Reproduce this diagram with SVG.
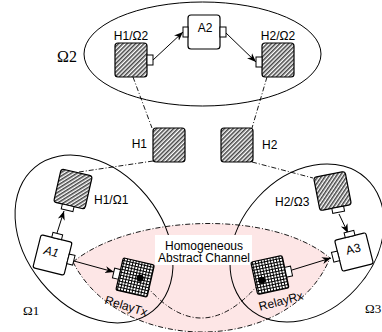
<svg xmlns="http://www.w3.org/2000/svg" width="382" height="332" viewBox="0 0 382 332">
<defs>
<pattern id="hatch" width="3" height="3" patternUnits="userSpaceOnUse" patternTransform="rotate(45)">
<rect width="3" height="3" fill="#ffffff"/>
<line x1="0.8" y1="0" x2="0.8" y2="3" stroke="#222" stroke-width="1.3"/>
</pattern>
<pattern id="grid" width="3" height="3" patternUnits="userSpaceOnUse">
<rect width="3" height="3" fill="#ffffff"/>
<path d="M0,0.5 H3 M0.5,0 V3" stroke="#000" stroke-width="1"/>
</pattern>
<marker id="arr" viewBox="0 0 10 10" refX="10" refY="5" markerWidth="9" markerHeight="9" markerUnits="userSpaceOnUse" orient="auto">
<path d="M0,1 L10,5 L0,9 L3,5 z" fill="#000"/>
</marker>
</defs>
<style>
.sans{font-family:"Liberation Sans",Arial,sans-serif;font-size:12px;fill:#000}
.serif{font-family:"Liberation Serif","Times New Roman",serif;fill:#000}
.region{fill:none;stroke:#000;stroke-width:1}
.hbox{fill:url(#hatch);stroke:#000;stroke-width:1.2}
.gbox{fill:url(#grid);stroke:#000;stroke-width:1.2}
.abox{fill:#fff;stroke:#000;stroke-width:1.2}
.port{fill:#fff;stroke:#000;stroke-width:1}
.dash{fill:none;stroke:#000;stroke-width:0.9;stroke-dasharray:5 2 1 2}
.arrow{fill:none;stroke:#000;stroke-width:1;marker-end:url(#arr)}
</style>
<rect width="382" height="332" fill="#fff"/>

<!-- channel -->
<g id="channel">
<path d="M73,262 C130,215 270,208 330,258 C290,356 120,356 73,262 Z" fill="#fde6e6" stroke="none"/>
<path class="dash" d="M73,262 C130,215 270,208 330,258"/>
<path class="dash" d="M73,262 C120,356 290,356 330,258"/>
</g>

<!-- regions -->
<g id="omega2">
<ellipse class="region" cx="202.5" cy="54" rx="118.5" ry="52"/>
<text class="serif" x="57" y="62" font-size="16">Ω2</text>
</g>
<g id="omega1">
<ellipse class="region" cx="94" cy="239" rx="93" ry="68" transform="rotate(50.7 94 239)"/>
<text class="serif" x="23" y="315" font-size="13">Ω1</text>
</g>
<g id="omega3">
<ellipse class="region" cx="307" cy="243" rx="87.6" ry="67" transform="rotate(-47.8 307 243)"/>
<text class="serif" x="365" y="313" font-size="13">Ω3</text>
</g>

<g id="channel-label">
<rect x="155" y="235" width="97" height="30" fill="#fff"/>
<text class="sans" x="204" y="249.5" text-anchor="middle">Homogeneous</text>
<text class="sans" x="204" y="262" text-anchor="middle">Abstract Channel</text>
</g>

<!-- connectors -->
<g id="connectors">
<path class="dash" d="M133,77 L152,128"/>
<path class="dash" d="M267,77 L252,128"/>
<path class="dash" d="M153,161 L79,172"/>
<path class="dash" d="M252,162 L313,178"/>
<path class="dash" d="M140,278 Q200,357 262,280"/>
<path class="arrow" d="M153,60 L183,32"/>
<path class="arrow" d="M226,33 L256,62"/>
<path class="arrow" d="M57,233 L64,211"/>
<path class="arrow" d="M74,261 L114,272"/>
<path class="arrow" d="M339,214 L348,233"/>
<path class="arrow" d="M292,270 L331,258"/>
</g>

<!-- nodes -->
<g id="H1-O2">
<rect class="hbox" x="115" y="43" width="32" height="34" rx="3"/>
<rect class="port" x="147" y="55" width="6" height="10"/>
<text class="sans" x="131" y="40" text-anchor="middle">H1/Ω2</text>
</g>
<g id="A2">
<rect class="abox" x="188" y="15" width="32" height="34" rx="3"/>
<rect class="port" x="183" y="27" width="5" height="10"/>
<rect class="port" x="220" y="27" width="6" height="10"/>
<text class="sans" x="205" y="32" text-anchor="middle">A2</text>
</g>
<g id="H2-O2">
<rect class="hbox" x="262" y="43" width="32" height="34" rx="3"/>
<rect class="port" x="256" y="57" width="6" height="10"/>
<text class="sans" x="278" y="40" text-anchor="middle">H2/Ω2</text>
</g>
<g id="H1">
<rect class="hbox" x="153" y="128" width="32" height="34" rx="3"/>
<text class="sans" x="147" y="148" text-anchor="end">H1</text>
</g>
<g id="H2">
<rect class="hbox" x="221" y="128" width="32" height="34" rx="3"/>
<text class="sans" x="262" y="149">H2</text>
</g>
<g id="H1-O1">
<g transform="translate(73,189) rotate(13)">
<rect class="hbox" x="-16" y="-17" width="32" height="34" rx="3"/>
<rect class="port" x="-7" y="17" width="12" height="5"/>
</g>
<text class="sans" x="94" y="204">H1/Ω1</text>
</g>
<g id="A1">
<g transform="translate(52.5,255) rotate(14)">
<rect class="abox" x="-16" y="-17" width="32" height="34" rx="2"/>
<rect class="port" x="-5" y="-22" width="10" height="5"/>
<rect class="port" x="16" y="-5" width="6" height="10"/>
<text class="sans" x="-2" y="1" text-anchor="middle" font-style="italic">A1</text>
</g>
</g>
<g id="RelayTx">
<g transform="translate(135,278) rotate(13)">
<rect class="gbox" x="-16" y="-17" width="32" height="33" rx="2"/>
<rect class="port" x="-22" y="-5" width="6" height="10"/>
<circle cx="5" cy="-1" r="3.6" fill="#000"/>
</g>
<text class="sans" transform="translate(125,310) rotate(17)" text-anchor="middle">RelayTx</text>
</g>
<g id="RelayRx">
<g transform="translate(270,275.5) rotate(-12)">
<rect class="gbox" x="-16" y="-17" width="32" height="33" rx="2"/>
<rect class="port" x="16" y="-5" width="6" height="10"/>
<circle cx="-9" cy="3" r="3.6" fill="#000"/>
</g>
<text class="sans" transform="translate(282,305) rotate(-15)" text-anchor="middle">RelayRx</text>
</g>
<g id="A3">
<g transform="translate(354,252) rotate(-14)">
<rect class="abox" x="-16" y="-16" width="32" height="32" rx="2"/>
<rect class="port" x="-5" y="-21" width="10" height="5"/>
<rect class="port" x="-22" y="-5" width="6" height="10"/>
<text class="sans" x="0" y="1" text-anchor="middle">A3</text>
</g>
</g>
<g id="H2-O3">
<g transform="translate(332.5,191) rotate(-11)">
<rect class="hbox" x="-16" y="-17" width="32" height="34" rx="3"/>
<rect class="port" x="-4" y="17" width="12" height="5"/>
</g>
<text class="sans" x="275" y="206">H2/Ω3</text>
</g>
</svg>
